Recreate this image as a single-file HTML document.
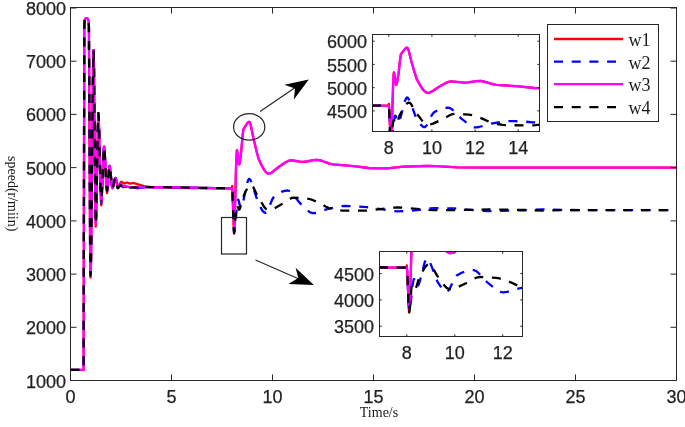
<!DOCTYPE html><html><head><meta charset="utf-8"><style>html,body{margin:0;padding:0;background:#fff;width:685px;height:427px;overflow:hidden}svg{display:block;will-change:transform}text{font-family:"Liberation Sans",sans-serif;fill:#1f1f1f;stroke:#1f1f1f;stroke-width:0.25px}.s{font-family:"Liberation Serif",serif;fill:#1a1a1a;stroke:none}</style></head><body><svg width="685" height="427" viewBox="0 0 685 427"><defs><clipPath id="cm"><rect x="70.5" y="7.5" width="606.0" height="373.0"/></clipPath><clipPath id="c1"><rect x="372.5" y="34.5" width="167.0" height="97.0"/></clipPath><clipPath id="c2"><rect x="379.5" y="251.5" width="143.0" height="85.0"/></clipPath></defs><rect width="685" height="427" fill="#fff"/><g clip-path="url(#cm)" fill="none" stroke-width="2.3" stroke-linejoin="round"><path d="M70.5,369.9 83.6,369.9 84.3,24.1 84.8,19.9 85.4,18.6 86.2,18.2 86.8,18.1 87.6,18.5 88.3,19.8 88.8,22.8 88.9,26.1 90.1,247.6 90.5,277.5 90.8,271.5 91.2,251.5 92.8,86.1 93.2,59.3 93.6,50.1 94.0,68.5 95.2,197.2 95.7,226.7 96.4,209.3 97.9,125.0 98.4,113.2 99.1,128.7 100.6,194.3 101.2,205.3 101.6,202.9 101.9,196.5 103.5,153.7 103.8,148.1 104.1,146.7 104.8,154.2 106.4,188.0 107.0,193.1 107.6,189.9 108.9,170.5 109.6,166.0 110.2,168.6 111.7,184.8 112.1,187.3 112.4,188.2 113.2,186.7 114.8,179.2 115.5,178.0 116.1,179.3 117.5,185.7 118.0,186.7 118.8,186.0 120.6,182.3 121.3,181.7 121.9,182.0 123.9,183.5 127.0,182.5 129.9,183.6 132.6,183.2 133.8,183.2 143.9,186.1 150.9,187.2 187.9,188.0 231.9,188.3 232.1,186.0 232.6,194.4 233.7,228.4 234.1,233.6 234.7,223.8 236.1,165.7 236.8,150.6 236.9,150.2 237.0,150.4 237.3,151.8 238.7,163.3 239.0,164.3 239.4,164.0 240.1,160.6 241.2,151.4 242.5,136.8 243.3,129.8 243.8,128.7 247.1,123.5 248.2,122.3 249.1,121.8 249.5,121.8 249.8,122.3 250.6,124.6 253.3,137.6 256.9,152.7 258.5,158.4 261.7,165.4 264.2,169.9 266.3,172.6 267.3,173.3 268.2,173.6 270.0,173.4 271.9,172.4 279.3,166.5 286.1,162.0 289.0,160.7 290.4,160.4 292.3,160.5 300.1,161.6 303.3,161.8 306.6,161.5 313.7,160.2 316.7,159.9 318.7,160.1 321.0,160.5 329.4,163.6 332.9,164.4 353.7,166.1 368.6,168.0 378.4,168.4 387.2,168.3 403.2,166.6 427.0,166.0 435.8,166.2 457.6,167.4 485.7,167.7 676.5,167.6" stroke="#ff0000"/><path d="M70.5,369.9 83.6,369.9 84.3,32.2 84.4,22.5 84.8,20.1 85.5,18.6 86.2,18.2 86.9,18.1 87.6,18.5 88.1,19.2 88.6,21.4 88.9,25.9 90.1,245.5 90.5,275.8 90.8,270.1 91.1,250.4 92.8,86.2 93.2,59.5 93.6,50.1 94.0,67.8 95.2,199.3 95.7,224.3 96.0,220.5 96.4,207.6 97.9,125.0 98.4,113.2 99.1,128.1 100.6,192.2 101.2,203.2 101.5,200.9 101.9,194.8 103.5,152.6 103.8,148.2 104.1,146.7 104.8,153.6 106.4,185.8 107.0,190.7 107.7,186.8 109.1,168.7 109.6,166.0 110.3,169.8 111.8,185.6 112.4,188.2 113.1,187.1 114.7,179.6 115.5,178.0 115.9,179.1 117.1,186.5 117.7,188.1 118.3,187.7 119.8,185.3 120.5,184.7 121.1,185.1 122.9,187.2 126.2,186.6 129.1,188.1 130.0,188.3 138.0,188.1 150.0,187.0 232.1,188.3" stroke="#0000ff" stroke-dasharray="9 8.7" stroke-dashoffset="0"/><path d="M232.1,188.3 232.5,192.8 233.6,224.7 234.1,231.5 234.6,230.4 235.0,227.4 237.0,206.0 237.9,200.1 238.2,199.6 238.6,200.3 240.3,207.3 240.5,207.5 240.8,207.5 241.5,206.7 243.2,201.5 247.2,182.9 248.3,179.8 248.8,179.0 249.3,178.8 250.2,179.6 251.3,182.0 258.2,202.9 262.4,210.6 264.0,212.3 265.3,212.9 266.4,212.4 267.7,210.5 272.3,199.3 274.2,196.2 277.8,193.7 281.4,191.9 284.6,190.9 287.6,190.5 289.5,191.1 291.6,192.7 299.3,202.4 307.3,210.2 310.2,212.4 312.7,213.1 314.9,213.0 317.3,212.5 327.1,209.1 335.0,207.3 340.6,206.2 345.0,205.9 353.3,206.1 366.8,207.2 382.5,209.3 392.6,211.0 397.4,211.4 409.3,210.8 419.6,209.8 429.7,208.3 434.0,208.1 454.6,208.4 479.7,210.7 488.0,211.2 521.3,210.3 542.7,209.4 580.8,210.2 676.5,210.2" stroke="#0000ff" stroke-dasharray="9 8.7" stroke-dashoffset="-3.3"/><path d="M70.5,369.9 83.6,369.9 84.3,24.1 84.8,19.9 85.4,18.6 86.2,18.2 86.8,18.1 87.6,18.5 88.3,19.8 88.8,22.8 88.9,26.1 90.1,246.2 90.5,275.9 90.8,270.0 91.2,250.0 92.8,85.8 93.2,59.3 93.6,50.1 94.0,68.3 95.2,195.2 95.7,224.3 96.4,207.3 97.9,124.8 98.4,113.2 99.1,128.1 100.6,191.0 101.2,201.6 101.6,199.3 101.9,193.3 103.5,153.3 103.8,148.1 104.1,146.7 104.7,152.1 106.3,183.4 107.0,190.7 107.3,190.0 107.6,187.8 108.9,170.1 109.6,166.0 110.2,168.6 111.7,184.8 112.1,187.3 112.4,188.2 113.2,186.7 114.8,179.2 115.5,178.0 116.0,179.6 117.3,186.9 117.7,187.9 118.3,187.3 119.7,184.0 120.2,183.5 120.8,183.9 122.7,186.1 125.7,185.8 128.6,187.1 131.2,187.3 160.5,187.1 232.1,188.3 232.5,192.9 233.6,220.0 234.1,226.2 234.7,217.2 236.1,164.3 236.8,150.6 236.9,150.2 237.0,150.4 237.4,152.1 238.7,163.3 239.0,164.3 239.4,164.0 240.1,160.6 241.2,151.4 242.5,136.8 243.3,129.8 243.8,128.7 247.1,123.5 248.2,122.3 249.1,121.8 249.5,121.8 249.8,122.3 250.6,124.6 253.3,137.6 256.9,152.7 258.5,158.4 261.7,165.4 264.2,169.9 266.3,172.6 267.3,173.3 268.2,173.6 270.0,173.4 271.9,172.4 279.3,166.5 286.1,162.0 289.0,160.7 290.4,160.4 292.3,160.5 300.1,161.6 303.3,161.8 306.6,161.5 313.7,160.2 316.7,159.9 318.7,160.1 321.0,160.5 329.4,163.6 332.9,164.4 353.7,166.1 368.6,168.0 378.4,168.4 387.2,168.3 403.2,166.6 427.0,166.0 435.8,166.2 457.6,167.4 485.7,167.7 676.5,167.6" stroke="#ff00ff"/><path d="M70.5,369.9 83.6,369.8 84.3,37.1 84.4,23.3 84.7,20.7 85.1,19.3 85.6,18.5 86.6,18.1 87.6,18.5 88.4,20.3 88.9,24.8 90.5,275.5 90.8,269.2 91.2,248.7 92.8,88.7 93.5,50.3 93.8,54.0 94.0,69.3 95.2,191.5 95.7,223.4 95.8,224.1 96.0,222.3 96.3,213.4 97.7,131.1 98.4,113.2 99.0,123.1 100.5,187.7 100.9,197.8 101.2,201.6" stroke="#000000" stroke-dasharray="9 8.7" stroke-dashoffset="0"/><path d="M101.2,201.6 101.8,195.3 103.4,155.3 104.1,146.7 104.4,147.9 104.7,152.1 106.2,183.4 107.0,190.7 107.3,190.1 107.6,187.8 108.9,170.2 109.6,166.0 110.2,168.5 111.7,184.7 112.4,188.2 112.7,188.0 113.1,187.1 114.7,179.6 115.5,178.0 116.0,179.3 117.1,186.7 117.7,188.3 118.3,188.0 119.8,185.8 120.5,185.2 121.0,185.5 122.3,187.3 122.9,187.7 126.0,186.3 128.9,187.7 143.2,187.2" stroke="#000000" stroke-dasharray="9 8.7" stroke-dashoffset="12"/><path d="M143.2,187.2 163.1,187.1 212.0,188.1 232.1,188.3" stroke="#000000" stroke-dasharray="9 8.7" stroke-dashoffset="-2"/><path d="M232.1,188.3 232.5,192.9 233.6,226.1 234.1,233.1 234.7,229.3 235.9,210.0 236.4,205.0 236.7,204.9 237.1,205.4 238.8,209.4 239.1,209.7 239.5,209.5 240.2,207.6 242.0,200.0 245.6,191.4 248.4,186.4 249.6,185.2 250.8,184.7 251.9,185.1 253.1,186.7 257.7,196.3 263.9,206.4 266.2,209.2 267.3,209.9 268.3,210.2 270.7,209.9 273.6,208.8 282.0,204.1 289.6,199.0 291.7,198.0 293.7,197.7 302.6,198.1 307.2,198.5 309.5,199.0 313.1,200.2 319.5,203.0 326.0,206.8 328.4,207.9 336.5,209.9 342.8,210.6 366.7,210.7 392.3,207.6 397.7,207.3 403.7,207.6 426.9,209.9 433.4,210.2 470.6,209.9 488.7,209.4 525.3,210.0 542.7,210.6 561.1,210.1 676.5,210.2" stroke="#000000" stroke-dasharray="9 8.7" stroke-dashoffset="-4.0"/></g><g stroke="#262626" stroke-width="1" fill="none"><rect x="70.5" y="7.5" width="606.0" height="373.0"/><path d="M70.5,380.5v-6M70.5,7.5v6"/><path d="M171.5,380.5v-6M171.5,7.5v6"/><path d="M272.5,380.5v-6M272.5,7.5v6"/><path d="M373.5,380.5v-6M373.5,7.5v6"/><path d="M474.5,380.5v-6M474.5,7.5v6"/><path d="M575.5,380.5v-6M575.5,7.5v6"/><path d="M676.5,380.5v-6M676.5,7.5v6"/><path d="M70.5,380.5h6M676.5,380.5h-6"/><path d="M70.5,327.3h6M676.5,327.3h-6"/><path d="M70.5,274.1h6M676.5,274.1h-6"/><path d="M70.5,220.9h6M676.5,220.9h-6"/><path d="M70.5,167.6h6M676.5,167.6h-6"/><path d="M70.5,114.4h6M676.5,114.4h-6"/><path d="M70.5,61.2h6M676.5,61.2h-6"/><path d="M70.5,8.0h6M676.5,8.0h-6"/></g><text x="70.5" y="403" font-size="18" text-anchor="middle">0</text><text x="171.5" y="403" font-size="18" text-anchor="middle">5</text><text x="272.5" y="403" font-size="18" text-anchor="middle">10</text><text x="373.5" y="403" font-size="18" text-anchor="middle">15</text><text x="474.5" y="403" font-size="18" text-anchor="middle">20</text><text x="575.5" y="403" font-size="18" text-anchor="middle">25</text><text x="676.5" y="403" font-size="18" text-anchor="middle">30</text><text x="66" y="387.5" font-size="18" text-anchor="end">1000</text><text x="66" y="334.3" font-size="18" text-anchor="end">2000</text><text x="66" y="281.1" font-size="18" text-anchor="end">3000</text><text x="66" y="227.9" font-size="18" text-anchor="end">4000</text><text x="66" y="174.6" font-size="18" text-anchor="end">5000</text><text x="66" y="121.4" font-size="18" text-anchor="end">6000</text><text x="66" y="68.2" font-size="18" text-anchor="end">7000</text><text x="66" y="15.0" font-size="18" text-anchor="end">8000</text><text class="s" x="379" y="417" font-size="14" text-anchor="middle">Time/s</text><text class="s" transform="translate(8,156) rotate(90)" x="0" y="0" font-size="14">speed(r/miin)</text><g stroke="#262626" stroke-width="1.2" fill="none"><ellipse cx="249.2" cy="126.9" rx="15.6" ry="13.2"/><rect x="221.5" y="217.5" width="25" height="36.5"/><path d="M260.1,111.5L296,87"/><path d="M255.5,260L299,279"/></g><path d="M308.8,79.6L284.4,84.8L295,88.5L293.9,99.5Z" fill="#000"/><path d="M313.9,284.9L295.6,267.8L298.3,278.1L288.4,284Z" fill="#000"/><rect x="372.5" y="34.5" width="167.0" height="97.0" fill="#fff"/><g clip-path="url(#c1)" fill="none" stroke-width="2.3" stroke-linejoin="round"><path d="M367.2,105.7 388.6,105.7 388.9,103.8 389.3,110.2 390.5,141.0 391.0,145.2 391.7,134.9 393.1,85.5 393.8,73.0 393.9,72.5 394.0,72.6 394.4,73.9 395.9,83.9 396.2,84.8 396.5,84.5 397.3,81.4 398.6,73.4 399.9,61.1 400.8,54.8 401.3,53.7 404.8,49.1 405.9,48.1 407.0,47.6 407.7,48.1 408.6,50.2 411.4,61.5 415.2,74.5 416.9,79.4 420.1,85.1 422.6,89.1 424.8,91.5 426.8,92.7 428.6,92.8 430.9,92.0 433.2,90.7 438.7,87.0 445.7,83.1 448.6,81.8 451.1,81.4 464.6,82.6 468.2,82.3 476.5,81.1 480.6,81.0 484.2,81.6 492.6,84.1 496.4,84.9 518.6,86.3 534.4,88.0 544.1,88.3" stroke="#ff0000"/><path d="M367.2,105.5 388.8,105.7" stroke="#0000ff" stroke-dasharray="9 8.7" stroke-dashoffset="-4.7"/><path d="M388.8,105.7 389.3,111.6 390.5,139.5 391.0,143.4 391.4,142.4 391.9,139.8 394.0,121.1 394.9,116.0 395.3,115.6 395.8,116.2 397.6,122.3 398.1,122.5 398.8,121.7 399.7,120.0 400.6,117.2 404.9,101.0 406.1,98.4 407.1,97.4 408.0,98.0 409.2,100.1 412.1,106.9 415.2,115.4 416.6,118.4 421.0,124.9 422.6,126.5 424.0,127.1 424.7,127.1 425.3,126.8 426.7,125.3 431.7,115.3 433.7,112.6 437.4,110.5 441.2,109.0 444.5,108.0 447.6,107.7 449.7,107.9 451.8,109.2 454.1,111.1 459.2,116.6 461.4,118.7 469.9,125.4 472.1,126.7 474.1,127.3 476.2,127.4 478.9,127.0 491.4,123.6 501.8,121.7 507.5,121.1 513.8,121.1 522.6,121.5 533.1,122.3 544.1,123.4" stroke="#0000ff" stroke-dasharray="9 8.7" stroke-dashoffset="-7"/><path d="M367.2,105.5 388.9,105.8 389.3,110.9 390.5,135.3 391.0,138.7 391.7,129.4 393.1,84.4 393.8,73.0 393.9,72.5 394.0,72.6 394.4,73.9 395.9,83.9 396.2,84.8 396.5,84.5 397.3,81.4 398.6,73.4 399.9,61.1 400.8,54.8 401.3,53.7 404.8,49.1 405.9,48.1 407.0,47.6 407.7,48.1 408.6,50.2 411.4,61.5 415.2,74.5 416.9,79.4 420.1,85.1 422.6,89.1 424.8,91.5 426.8,92.7 428.6,92.8 430.9,92.0 433.2,90.7 438.7,87.0 445.7,83.1 448.6,81.8 451.1,81.4 464.6,82.6 468.2,82.3 476.5,81.1 480.6,81.0 484.2,81.6 492.6,84.1 496.4,84.9 518.6,86.3 534.4,88.0 544.1,88.3" stroke="#ff00ff"/><path d="M367.2,105.5 388.8,105.7" stroke="#000000" stroke-dasharray="9 8.7" stroke-dashoffset="-4.7"/><path d="M388.8,105.7 389.2,109.8 390.4,138.7 391.0,144.8 391.5,141.5 392.8,124.6 393.4,120.3 393.7,120.2 394.1,120.7 395.9,124.1 396.3,124.4 396.7,124.2 397.4,122.6 399.4,115.9 403.1,108.7 406.1,104.2 407.3,103.1 408.6,102.6 409.8,102.9 411.2,104.2 416.1,112.7 422.7,121.4 425.0,123.8 427.1,124.8 429.8,124.6 433.0,123.6 442.1,119.5 450.1,115.0 452.4,114.2 454.5,113.9 464.6,114.3 469.1,114.7 471.7,115.1 475.4,116.2 482.2,118.6 491.2,122.7 497.3,124.0 502.7,124.9 507.4,125.2 530.0,125.4 535.6,125.1 544.1,124.2" stroke="#000000" stroke-dasharray="9 8.7" stroke-dashoffset="-3.5"/></g><g stroke="#262626" stroke-width="1" fill="none"><rect x="372.5" y="34.5" width="167.0" height="97.0"/><path d="M388.8,131.5v-2.2M388.8,34.5v2.2"/><path d="M431.9,131.5v-2.2M431.9,34.5v2.2"/><path d="M475.1,131.5v-2.2M475.1,34.5v2.2"/><path d="M518.2,131.5v-2.2M518.2,34.5v2.2"/><path d="M372.5,110.9h2.2M539.5,110.9h-2.2"/><path d="M372.5,87.7h2.2M539.5,87.7h-2.2"/><path d="M372.5,64.4h2.2M539.5,64.4h-2.2"/><path d="M372.5,41.2h2.2M539.5,41.2h-2.2"/></g><text x="388.8" y="153.5" font-size="18" text-anchor="middle">8</text><text x="431.9" y="153.5" font-size="18" text-anchor="middle">10</text><text x="475.1" y="153.5" font-size="18" text-anchor="middle">12</text><text x="518.2" y="153.5" font-size="18" text-anchor="middle">14</text><text x="367.0" y="118.0" font-size="18" text-anchor="end">4500</text><text x="367.0" y="94.8" font-size="18" text-anchor="end">5000</text><text x="367.0" y="71.5" font-size="18" text-anchor="end">5500</text><text x="367.0" y="48.3" font-size="18" text-anchor="end">6000</text><rect x="379.5" y="251.5" width="143.0" height="85.0" fill="#fff"/><g clip-path="url(#c2)" fill="none" stroke-width="2.3" stroke-linejoin="round"><path d="M370.8,267.6 406.5,267.7 406.8,265.5 407.4,273.8 408.7,307.4 409.0,311.6 409.2,312.5 410.0,301.2 411.6,245.4 412.4,230.4 412.5,230.1 412.7,230.3 413.0,231.6 414.6,243.0 415.0,244.0 415.4,243.7 416.3,240.3 417.6,231.2 419.1,216.8 420.1,209.9 420.7,208.8 424.6,203.6 425.8,202.5 426.9,202.0 427.4,202.0 427.8,202.5 428.8,204.8 432.0,217.6 436.1,232.3 438.1,237.8 441.4,244.1 444.2,248.6 446.5,251.4 448.6,252.9 449.6,253.2 450.8,253.1 453.6,252.3 456.1,250.8 462.3,246.5 469.7,242.3 472.8,240.9 475.4,240.2 478.9,240.3 487.3,241.3 491.1,241.5 495.0,241.2 504.3,239.8 508.8,239.7 512.8,240.4 522.4,243.3 526.7,244.1" stroke="#ff0000"/><path d="M370.8,267.3 406.8,267.7" stroke="#0000ff" stroke-dasharray="9 8.7" stroke-dashoffset="-8.2"/><path d="M406.8,267.7 407.3,272.1 408.6,303.7 409.2,310.4 409.7,309.3 410.3,306.4 412.6,285.2 413.6,279.4 414.0,278.9 414.5,279.6 416.6,286.5 416.8,286.7 417.2,286.7 417.9,285.9 418.9,283.9 419.9,280.8 424.7,262.4 425.9,259.5 426.5,258.7 427.0,258.4 427.6,258.5 428.2,259.0 429.5,261.4 432.7,269.1 436.2,278.6 437.7,282.1 442.5,289.4 444.2,291.1 445.7,291.9 446.5,292.0 447.2,291.7 448.9,290.0 450.5,287.1 454.5,278.6 455.6,276.7 456.7,275.5 460.7,273.3 464.7,271.5 468.3,270.4 471.6,270.0 474.3,270.2 476.9,271.6 479.5,274.0 484.9,280.0 487.3,282.3 496.4,289.7 498.6,291.1 500.6,291.9 503.1,292.3 507.1,291.8 519.4,288.3 526.7,286.9" stroke="#0000ff" stroke-dasharray="9 8.7" stroke-dashoffset="4"/><path d="M370.8,267.3 406.8,267.7 407.4,274.4 408.7,301.0 409.0,304.5 409.2,305.1 410.0,294.9 411.6,244.0 412.4,230.4 412.5,230.1 412.7,230.3 413.1,232.0 414.6,243.0 415.0,244.0 415.4,243.7 416.3,240.3 417.6,231.2 419.1,216.8 420.1,209.9 420.7,208.8 424.6,203.6 425.8,202.5 426.9,202.0 427.4,202.0 427.8,202.5 428.8,204.8 432.0,217.6 436.1,232.3 438.1,237.8 441.4,244.1 444.2,248.6 446.5,251.4 448.6,252.9 449.6,253.2 450.8,253.1 453.6,252.3 456.1,250.8 462.3,246.5 469.7,242.3 472.8,240.9 475.4,240.2 478.9,240.3 487.3,241.3 491.1,241.5 495.0,241.2 504.3,239.8 508.8,239.7 512.8,240.4 522.4,243.3 526.7,244.1" stroke="#ff00ff"/><path d="M370.8,267.3 406.8,267.7" stroke="#000000" stroke-dasharray="9 8.7" stroke-dashoffset="-8.2"/><path d="M406.8,267.7 407.3,272.3 408.6,305.1 409.2,312.0 409.9,308.3 411.3,289.2 412.0,284.3 412.3,284.2 412.7,284.7 414.7,288.5 415.1,288.8 415.5,288.6 416.4,286.8 418.6,279.3 422.5,271.5 424.3,268.4 425.9,266.2 427.3,264.8 428.6,264.2 429.3,264.1 430.0,264.4 431.7,266.0 437.1,275.6 444.4,285.5 446.9,288.1 449.2,289.3 452.1,289.2 455.8,288.0 466.0,283.3 475.0,278.3 477.6,277.3 479.8,277.0 491.6,277.5 496.3,277.9 499.3,278.4 503.3,279.6 510.7,282.3 520.1,286.7 526.7,288.3" stroke="#000000" stroke-dasharray="9 8.7" stroke-dashoffset="-8.5"/></g><g stroke="#262626" stroke-width="1" fill="none"><rect x="379.5" y="251.5" width="143.0" height="85.0"/><path d="M406.8,336.5v-2.2M406.8,251.5v2.2"/><path d="M454.8,336.5v-2.2M454.8,251.5v2.2"/><path d="M502.7,336.5v-2.2M502.7,251.5v2.2"/><path d="M379.5,326.2h2.2M522.5,326.2h-2.2"/><path d="M379.5,299.9h2.2M522.5,299.9h-2.2"/><path d="M379.5,273.6h2.2M522.5,273.6h-2.2"/></g><text x="406.8" y="358.5" font-size="18" text-anchor="middle">8</text><text x="454.8" y="358.5" font-size="18" text-anchor="middle">10</text><text x="502.7" y="358.5" font-size="18" text-anchor="middle">12</text><text x="374.0" y="333.3" font-size="18" text-anchor="end">3500</text><text x="374.0" y="307.0" font-size="18" text-anchor="end">4000</text><text x="374.0" y="280.7" font-size="18" text-anchor="end">4500</text><rect x="547.5" y="24.5" width="111.0" height="97.0" fill="#fff" stroke="#262626" stroke-width="1"/><path d="M554,39H623" stroke="#ff0000" stroke-width="2.3"/><text class="s" x="628.5" y="46.1" font-size="18">w1</text><path d="M554,61.7H616" stroke="#0000ff" stroke-width="2.3" stroke-dasharray="9 8.7"/><text class="s" x="628.5" y="68.8" font-size="18">w2</text><path d="M554,84.2H623" stroke="#ff00ff" stroke-width="2.3"/><text class="s" x="628.5" y="91.3" font-size="18">w3</text><path d="M554,107.2H616" stroke="#000000" stroke-width="2.3" stroke-dasharray="9 8.7"/><text class="s" x="628.5" y="114.3" font-size="18">w4</text></svg></body></html>
